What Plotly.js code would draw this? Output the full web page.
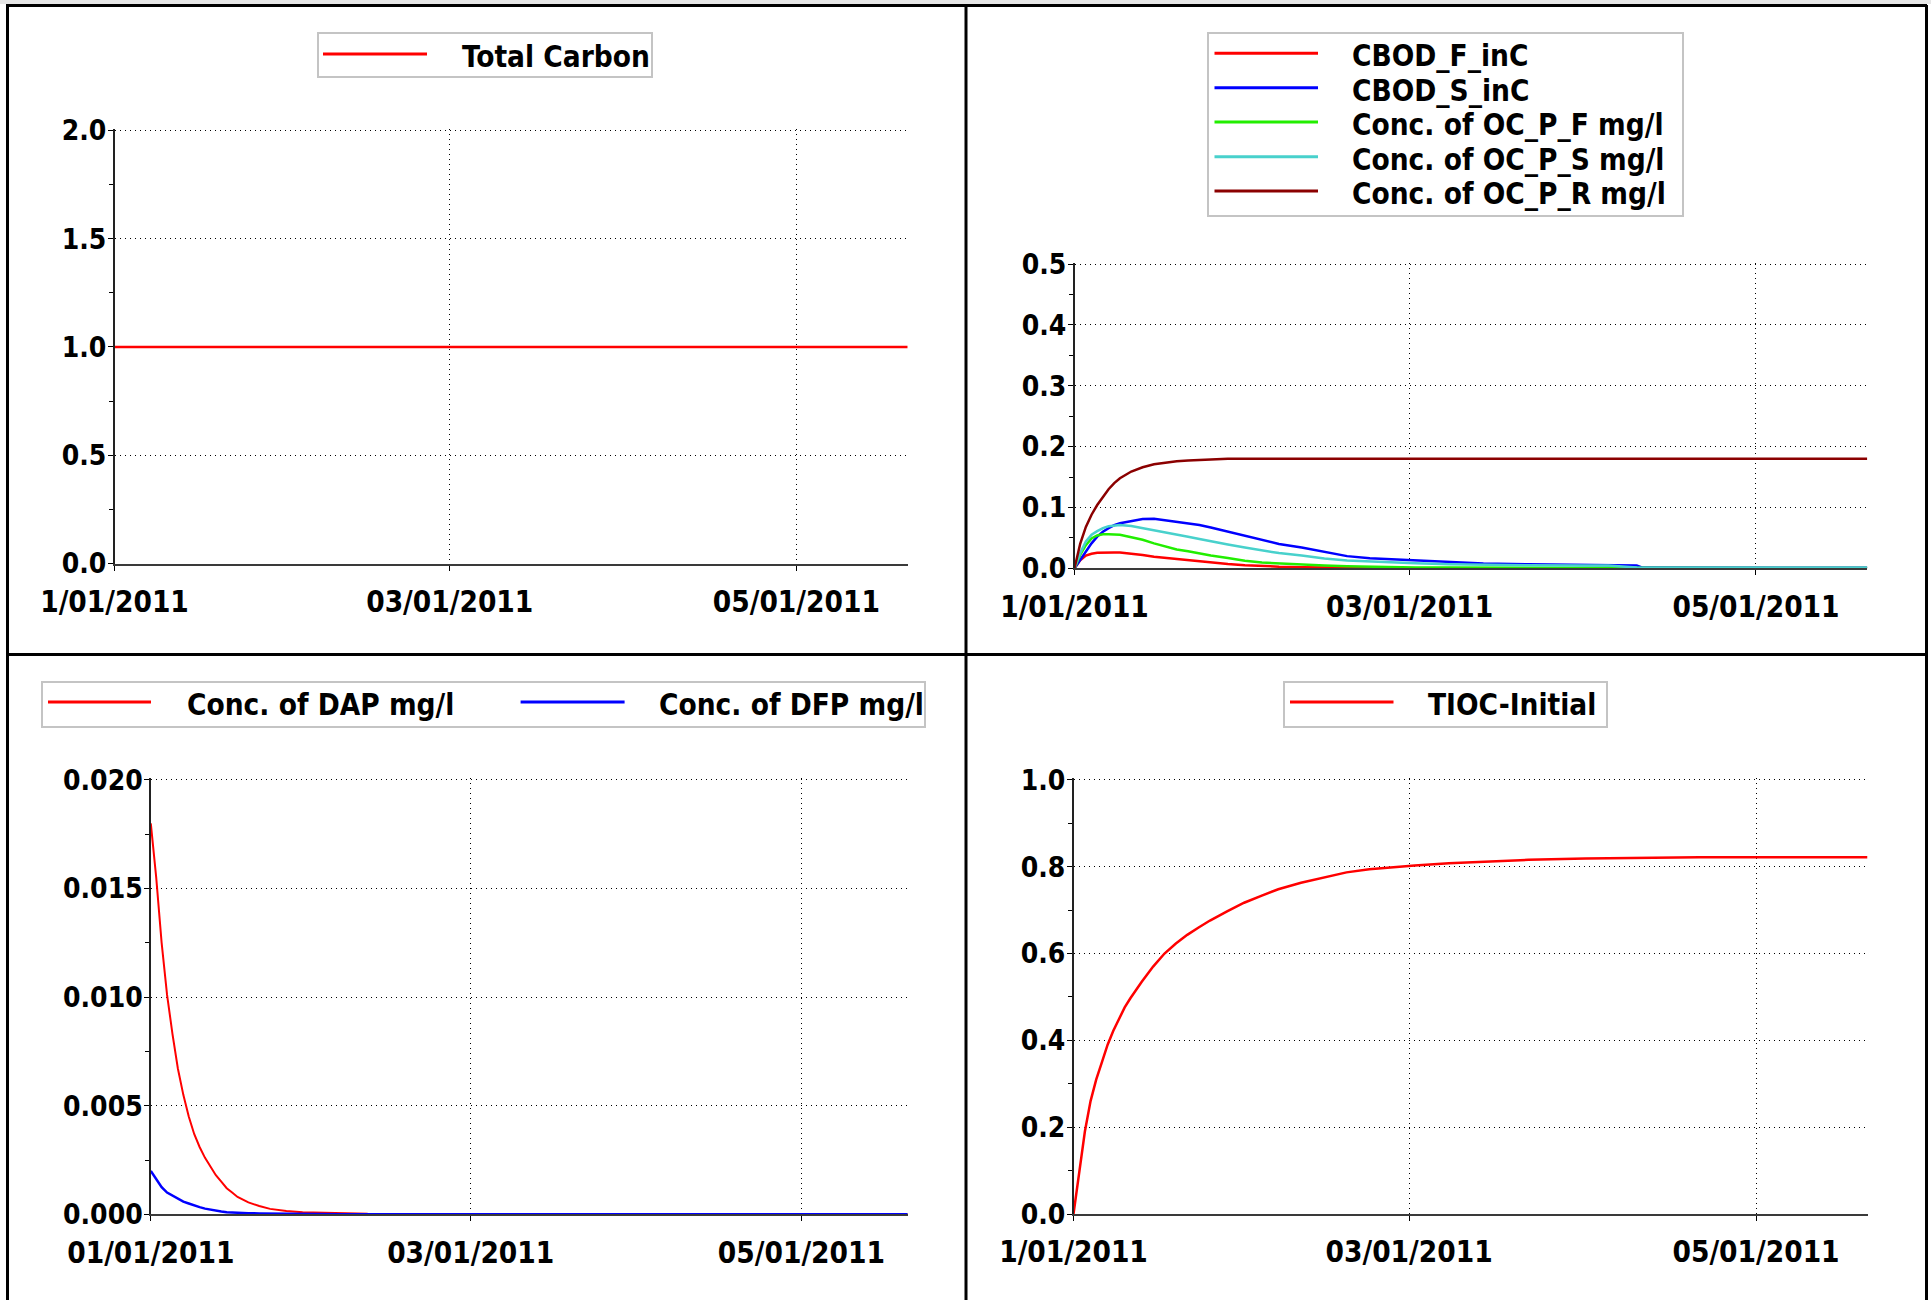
<!DOCTYPE html>
<html>
<head>
<meta charset="utf-8">
<script src="https://cdn.plot.ly/plotly-3.0.1.min.js"></script>
<style>
html,body{margin:0;padding:0;background:#fff;}
#chart{width:1931px;height:1300px;}
</style>
</head>
<body>
<div id="chart"></div>
<script>
// ================= DATA =================
const START = Date.UTC(2011, 0, 1);
const END_DAY = 139.6;
const X_TICK_DATES = ['2011-01-01', '2011-03-01', '2011-05-01'];
const X_TICK_TEXT = ['1/01/2011', '03/01/2011', '05/01/2011'];
const X_TICK_TEXT_BL = ['01/01/2011', '03/01/2011', '05/01/2011'];

// Panel 1 (top-left)
const TC_DAYS = [0, 31, 59, 90, 120, 139.6];
const TOTAL_CARBON = [1.0, 1.0, 1.0, 1.0, 1.0, 1.0];

// Panel 2 (top-right)
const P2_DAYS = [0, 1, 2, 3, 4, 5, 6, 7, 8, 10, 12, 14, 16, 18, 20, 22, 24, 27, 30, 33, 36, 40, 44, 48, 52, 56, 60, 66, 72, 80, 90, 94, 99, 100, 110, 120, 130, 139.6];
const CBOD_F_INC = [0, 0.013, 0.021, 0.024, 0.0255, 0.026, 0.026, 0.026, 0.0258, 0.0245, 0.022, 0.019, 0.0172, 0.0148, 0.013, 0.011, 0.0093, 0.0072, 0.0052, 0.0038, 0.0027, 0.0019, 0.0013, 0.0008, 0.0005, 0.0003, 0.0002, 0.0001, 0.0001, 0.0001, 0, 0, 0, 0, 0, 0, 0, 0];
const CBOD_S_INC = [0, 0.014, 0.028, 0.041, 0.052, 0.060, 0.066, 0.071, 0.074, 0.078, 0.081, 0.0815, 0.079, 0.077, 0.074, 0.071, 0.067, 0.060, 0.053, 0.047, 0.040, 0.034, 0.027, 0.020, 0.0165, 0.0148, 0.0128, 0.0098, 0.0078, 0.0065, 0.0055, 0.005, 0.0048, 0.0012, 0.001, 0.0009, 0.0008, 0.0008];
const OC_P_F = [0, 0.022, 0.038, 0.049, 0.054, 0.056, 0.056, 0.0555, 0.055, 0.051, 0.047, 0.041, 0.036, 0.031, 0.028, 0.024, 0.021, 0.017, 0.0125, 0.0095, 0.0078, 0.006, 0.0045, 0.0032, 0.0024, 0.0018, 0.0015, 0.0012, 0.001, 0.001, 0.0009, 0.0009, 0.0005, 0.0004, 0.0004, 0.0003, 0.0003, 0.0003];
const OC_P_S = [0, 0.025, 0.044, 0.055, 0.061, 0.066, 0.069, 0.070, 0.071, 0.0695, 0.066, 0.063, 0.060, 0.056, 0.052, 0.048, 0.044, 0.039, 0.034, 0.029, 0.025, 0.021, 0.016, 0.013, 0.011, 0.0095, 0.0082, 0.0065, 0.0055, 0.005, 0.0047, 0.0044, 0.0012, 0.0011, 0.001, 0.001, 0.001, 0.001];
const OC_P_R = [0, 0.040, 0.068, 0.088, 0.104, 0.118, 0.130, 0.140, 0.148, 0.159, 0.166, 0.171, 0.174, 0.176, 0.177, 0.178, 0.179, 0.180, 0.180, 0.180, 0.180, 0.180, 0.180, 0.180, 0.180, 0.180, 0.180, 0.180, 0.180, 0.180, 0.180, 0.180, 0.180, 0.180, 0.180, 0.180, 0.180, 0.180];

// Panel 3 (bottom-left)
const P3_DAYS = [0, 1, 2, 3, 4, 5, 6, 7, 8, 9, 10, 11, 12, 13, 14, 15, 16, 18, 20, 22, 25, 28, 31, 35, 40, 50, 60, 80, 100, 120, 139.6];
const DAP = [0.018, 0.0155, 0.0125, 0.0101, 0.0083, 0.0067, 0.0055, 0.0045, 0.0037, 0.0031, 0.0026, 0.0022, 0.0018, 0.0015, 0.0012, 0.001, 0.0008, 0.00055, 0.00038, 0.00025, 0.00015, 0.0001, 0.00008, 0.00004, 0.00002, 0.00001, 0, 0, 0, 0, 0];
const DFP = [0.0020, 0.0016, 0.00125, 0.001, 0.00085, 0.0007, 0.00058, 0.0005, 0.0004, 0.00033, 0.00026, 0.00021, 0.00017, 0.00013, 0.0001, 0.00008, 0.00007, 0.00005, 0.00004, 0.00003, 0.00002, 0.00001, 0.00001, 0, 0, 0, 0, 0, 0, 0, 0];

// Panel 4 (bottom-right)
const P4_DAYS = [0, 1, 1.5, 2, 3, 4, 5, 6, 7, 8, 9, 10, 12, 14, 16, 18, 20, 22, 24, 27, 30, 33, 36, 40, 44, 48, 52, 56, 60, 66, 72, 80, 90, 100, 110, 120, 139.6];
const TIOC_INITIAL = [0, 0.10, 0.153, 0.19, 0.26, 0.31, 0.35, 0.39, 0.422, 0.45, 0.476, 0.497, 0.535, 0.57, 0.60, 0.623, 0.643, 0.660, 0.676, 0.697, 0.717, 0.733, 0.748, 0.763, 0.775, 0.787, 0.794, 0.799, 0.803, 0.808, 0.812, 0.816, 0.819, 0.821, 0.822, 0.822, 0.822];

// ================= HELPERS =================
const W = 1931, H = 1300;
function toDate(d) {
  return new Date(START + d * 86400000).toISOString().slice(0, 19).replace('T', ' ');
}
function dates(arr) { return arr.map(toDate); }
const px = x => x / W;
const py = y => 1 - y / H;

const FONT_FAMILY = '"DejaVu Sans Condensed", "DejaVu Sans", Tahoma, sans-serif';
const XTICK_FONT = {family: FONT_FAMILY, size: 29.5, color: '#000', weight: 'bold'};
const YTICK_FONT = {family: FONT_FAMILY, size: 28, color: '#000', weight: 'bold'};
const LEG_FONT = {family: FONT_FAMILY, size: 29.5, color: '#000', weight: 'bold'};

const COLORS = {
  red: '#ff0000', blue: '#0000ff', green: '#22ee00', cyan: '#48d1cc', brown: '#8b0000'
};

// ================= TRACES =================
function tr(days, vals, name, color, xa, ya, w) {
  return {
    type: 'scatter', mode: 'lines', x: dates(days), y: vals, name: name,
    line: {color: color, width: w || 2.5}, xaxis: xa, yaxis: ya,
    showlegend: false, hoverinfo: 'x+y+name'
  };
}
const data = [
  tr(TC_DAYS, TOTAL_CARBON, 'Total Carbon', COLORS.red, 'x', 'y', 2.5),
  tr(P2_DAYS, CBOD_F_INC, 'CBOD_F_inC', COLORS.red, 'x2', 'y2', 2.5),
  tr(P2_DAYS, CBOD_S_INC, 'CBOD_S_inC', COLORS.blue, 'x2', 'y2', 2.5),
  tr(P2_DAYS, OC_P_F, 'Conc. of OC_P_F mg/l', COLORS.green, 'x2', 'y2', 2.5),
  tr(P2_DAYS, OC_P_S, 'Conc. of OC_P_S mg/l', COLORS.cyan, 'x2', 'y2', 2.5),
  tr(P2_DAYS, OC_P_R, 'Conc. of OC_P_R mg/l', COLORS.brown, 'x2', 'y2', 2.5),
  tr(P3_DAYS, DAP, 'Conc. of DAP mg/l', COLORS.red, 'x3', 'y3', 2),
  tr(P3_DAYS, DFP, 'Conc. of DFP mg/l', COLORS.blue, 'x3', 'y3', 2.5),
  tr(P4_DAYS, TIOC_INITIAL, 'TIOC-Initial', COLORS.red, 'x4', 'y4', 2.5)
];

// ================= AXES =================
const GRID_DASH = '1px,4px';
const EPS = 0.004; // small headroom so the top gridline is drawn
function xax(domainPx, ticktext) {
  return {
    type: 'date', domain: [px(domainPx[0]), px(domainPx[1])],
    range: [toDate(0), toDate(END_DAY)],
    tickmode: 'array', tickvals: X_TICK_DATES, ticktext: ticktext,
    showgrid: true, gridcolor: '#000', gridwidth: 1, griddash: GRID_DASH,
    showline: true, linecolor: '#3a3a3a', linewidth: 2,
    ticks: 'outside', ticklen: 5, tickcolor: '#000', tickwidth: 1,
    ticklabelstandoff: 6,
    tickfont: XTICK_FONT, zeroline: false, fixedrange: true
  };
}
function yax(domainPx, max, dtick, fmt) {
  const top = domainPx[0] - (domainPx[1] - domainPx[0]) * EPS;
  return {
    domain: [py(domainPx[1]), py(top)],
    range: [0, max * (1 + EPS)], tickmode: 'linear', tick0: 0, dtick: dtick, tickformat: fmt,
    showgrid: true, gridcolor: '#000', gridwidth: 1, griddash: GRID_DASH,
    showline: true, linecolor: '#222', linewidth: 1.5,
    ticks: 'outside', ticklen: 5, tickcolor: '#000', tickwidth: 1,
    ticklabelstandoff: -4,
    minor: {dtick: dtick / 2, ticks: 'outside', ticklen: 4, tickcolor: '#000', tickwidth: 1, showgrid: false},
    tickfont: YTICK_FONT, zeroline: false, fixedrange: true
  };
}

const P1 = {x: [114.5, 907.7], y: [130.4, 563.6]};
const P2 = {x: [1074.5, 1867.3], y: [264, 568.3]};
const P3 = {x: [150.8, 907.7], y: [779.9, 1214.3]};
const P4 = {x: [1073.5, 1867.5], y: [779.9, 1214.0]};

// ================= FRAME & LEGENDS =================
const shapes = [];
const annotations = [];
function lineShape(x0, y0, x1, y1, color, width) {
  shapes.push({type: 'line', xref: 'paper', yref: 'paper', x0: px(x0), y0: py(y0), x1: px(x1), y1: py(y1),
    line: {color: color, width: width}, layer: 'above'});
}
function rectShape(x0, y0, x1, y1, line, fill, layer) {
  shapes.push({type: 'rect', xref: 'paper', yref: 'paper', x0: px(x0), y0: py(y0), x1: px(x1), y1: py(y1),
    line: line, fillcolor: fill, layer: layer || 'above'});
}
// window strip and panel frames
rectShape(0, 0, W, 4, {width: 0}, '#e6e6e6', 'below');
lineShape(6, 5.5, 1927, 5.5, '#000', 3);
lineShape(7.5, 5, 7.5, H, '#000', 3);
lineShape(966, 5, 966, H, '#000', 3);
lineShape(1926.5, 5, 1926.5, H, '#000', 3);
lineShape(6, 654.5, 1927, 654.5, '#000', 3);

function legendBox(x0, y0, x1, y1) {
  rectShape(x0, y0, x1, y1, {color: '#c4c4c4', width: 2}, '#fff', 'above');
}
function legendItem(sx0, sx1, sy, tx, text, color) {
  lineShape(sx0, sy, sx1, sy, color, 3);
  annotations.push({xref: 'paper', yref: 'paper', x: px(tx), y: py(sy + 3), xanchor: 'left', yanchor: 'middle',
    text: text, showarrow: false, font: LEG_FONT, align: 'left'});
}
// TL
legendBox(318, 33, 652, 77);
legendItem(323, 427, 54, 460, 'Total Carbon', COLORS.red);
// TR
legendBox(1208, 33, 1683, 216);
const trNames = ['CBOD_F_inC', 'CBOD_S_inC', 'Conc. of OC_P_F mg/l', 'Conc. of OC_P_S mg/l', 'Conc. of OC_P_R mg/l'];
const trColors = [COLORS.red, COLORS.blue, COLORS.green, COLORS.cyan, COLORS.brown];
const trY = [53.3, 87.7, 122, 156.7, 191];
trNames.forEach((n, i) => legendItem(1214.5, 1318, trY[i], 1350, n, trColors[i]));
// BL
legendBox(42, 682, 925, 727);
legendItem(48, 151, 702, 185, 'Conc. of DAP mg/l', COLORS.red);
legendItem(520.6, 624.6, 702, 657, 'Conc. of DFP mg/l', COLORS.blue);
// BR
legendBox(1284, 682, 1607, 727);
legendItem(1290, 1393.5, 702, 1426, 'TIOC-Initial', COLORS.red);

const layout = {
  width: W, height: H,
  margin: {l: 0, r: 0, t: 0, b: 0, pad: 0},
  paper_bgcolor: '#fff', plot_bgcolor: 'rgba(0,0,0,0)',
  showlegend: false,
  font: {family: FONT_FAMILY, color: '#000'},
  xaxis: Object.assign(xax(P1.x, X_TICK_TEXT), {anchor: 'y'}),
  yaxis: Object.assign(yax(P1.y, 2.0, 0.5, '.1f'), {anchor: 'x'}),
  xaxis2: Object.assign(xax(P2.x, X_TICK_TEXT), {anchor: 'y2'}),
  yaxis2: Object.assign(yax(P2.y, 0.5, 0.1, '.1f'), {anchor: 'x2'}),
  xaxis3: Object.assign(xax(P3.x, X_TICK_TEXT_BL), {anchor: 'y3'}),
  yaxis3: Object.assign(yax(P3.y, 0.020, 0.005, '.3f'), {anchor: 'x3'}),
  xaxis4: Object.assign(xax(P4.x, X_TICK_TEXT), {anchor: 'y4'}),
  yaxis4: Object.assign(yax(P4.y, 1.0, 0.2, '.1f'), {anchor: 'x4'}),
  shapes: shapes,
  annotations: annotations
};

Plotly.newPlot('chart', data, layout, {staticPlot: true, displayModeBar: false});
</script>
</body>
</html>
